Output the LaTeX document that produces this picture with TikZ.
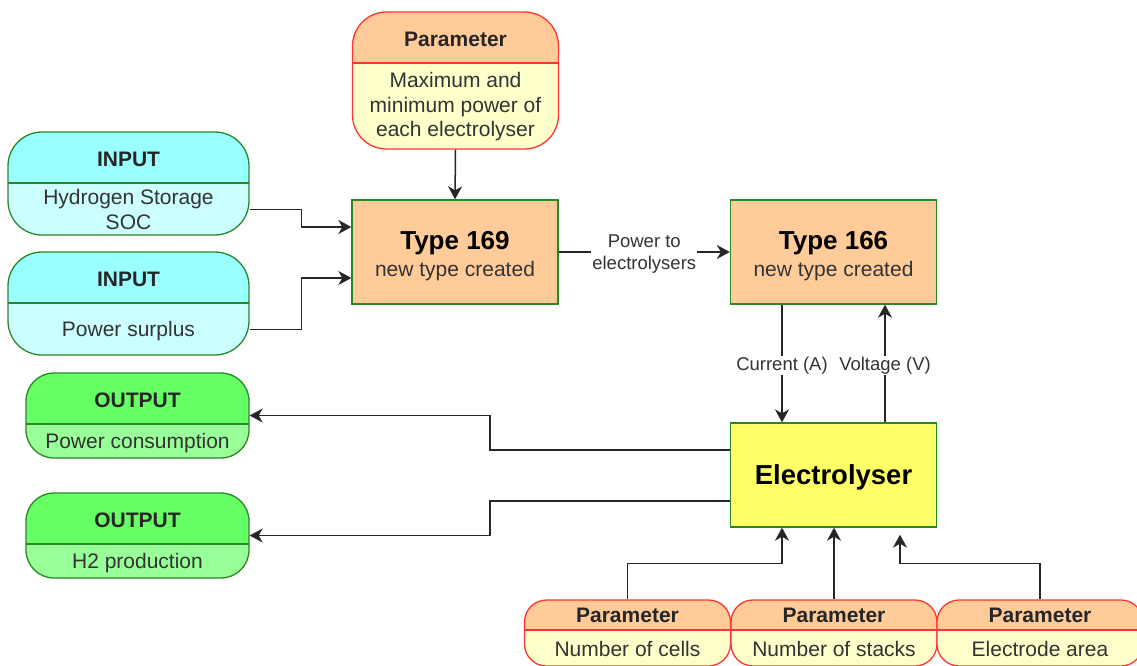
\documentclass[tikz,border=0pt]{standalone}
\usepackage{fontspec}
\setmainfont{Liberation Sans}
\usetikzlibrary{arrows.meta}

\definecolor{inhead}{HTML}{99FFFF}
\definecolor{inbody}{HTML}{CCFFFF}
\definecolor{outhead}{HTML}{66FF66}
\definecolor{outbody}{HTML}{99FF99}
\definecolor{parhead}{HTML}{FFCC99}
\definecolor{parbody}{HTML}{FFFFCC}
\definecolor{typefill}{HTML}{FFCC99}
\definecolor{elecfill}{HTML}{FFFF66}
\definecolor{edgegreen}{RGB}{40,135,40}
\definecolor{edgered}{HTML}{FF3333}
\definecolor{txt}{HTML}{333333}

\newcommand{\bodysize}{\fontsize{21}{24.5}\selectfont}
\newcommand{\labelsize}{\fontsize{18.5}{22}\selectfont}

\begin{document}
\begin{tikzpicture}[x=1pt, y=-1pt,
    hdr/.store in=\hdrh, hdr=51pt,
    card/.style n args={3}{draw=#1, fill=#3, line width=1.3pt, inner sep=0pt,
      path picture={
        \fill[#2, sharp corners] (path picture bounding box.north west) rectangle ([yshift=-\hdrh]path picture bounding box.north east);
        \draw[#1, line width=1.3pt] ([yshift=-\hdrh]path picture bounding box.north west) -- ([yshift=-\hdrh]path picture bounding box.north east);
      }},
    incard/.style={card={edgegreen}{inhead}{inbody}, rounded corners=34pt, minimum width=241pt, minimum height=103pt},
    outcard/.style={card={edgegreen}{outhead}{outbody}, rounded corners=28pt, minimum width=223pt, minimum height=85pt},
    parcard/.style={card={edgered}{parhead}{parbody}, rounded corners=22pt, minimum width=206pt, minimum height=66pt, hdr=30pt},
    block/.style={rectangle, draw=edgegreen, line width=1.3pt, minimum width=206pt, minimum height=104pt},
    blocktext/.style={align=center, text=black, inner sep=0pt},
    title/.style={font=\bodysize\bfseries, text=black!85},
    body/.style={font=\bodysize, text=txt, align=center},
    lbl/.style={font=\labelsize, text=txt, fill=white, align=center, inner sep=1pt, yshift=-2pt},
    arr/.style={-{Stealth[length=13pt, width=14pt, inset=4pt]}, line width=1.5pt, black!85}
  ]

  \useasboundingbox (0,0) rectangle (1137,666);

  % parameter feeding the dispatcher
  \node[card={edgered}{parhead}{parbody}, rounded corners=34pt, minimum width=206pt, minimum height=137pt] (par) at (455.5,80.5) {};
  \node[title] (part) at ([yshift=-28pt]par.north) {Parameter};
  \node[body] (parb) at ([yshift=43pt]par.south) {Maximum and\\minimum power of\\each electrolyser};

  % inputs
  \node[incard] (in1) at (128.5,183.5) {};
  \node[title] (in1t) at ([yshift=-28.5pt]in1.north) {INPUT};
  \node[body] (in1b) at ([yshift=26pt]in1.south) {Hydrogen Storage\\SOC};

  \node[incard] (in2) at (128.5,303.5) {};
  \node[title] (in2t) at ([yshift=-28.5pt]in2.north) {INPUT};
  \node[body] (in2b) at ([yshift=25pt]in2.south) {Power surplus};

  % outputs
  \node[outcard] (out1) at (137.5,415.5) {};
  \node[title] (out1t) at ([yshift=-28pt]out1.north) {OUTPUT};
  \node[body] (out1b) at ([yshift=16pt]out1.south) {Power consumption};

  \node[outcard] (out2) at (137.5,535.5) {};
  \node[title] (out2t) at ([yshift=-28pt]out2.north) {OUTPUT};
  \node[body] (out2b) at ([yshift=16pt]out2.south) {H2 production};

  % types and electrolyser
  \node[block, fill=typefill] (t169) at (455,252) {};
  \node[blocktext] (t169x) at ([yshift=-4pt]t169.center)
    {{\fontsize{26}{28}\selectfont\bfseries Type 169}\\[5pt]{\bodysize\color{txt} new type created}};
  \node[block, fill=typefill] (t166) at (833.5,252) {};
  \node[blocktext] (t166x) at ([yshift=-4pt]t166.center)
    {{\fontsize{26}{28}\selectfont\bfseries Type 166}\\[5pt]{\bodysize\color{txt} new type created}};
  \node[block, fill=elecfill] (elec) at (833.5,475) {};
  \node[blocktext, text depth=0pt] (elecx) at (elec.center)
    {\fontsize{27.5}{30}\selectfont\bfseries Electrolyser};

  % electrolyser parameters
  \node[parcard] (pcell) at (627.5,633) {};
  \node[title] (pcellt) at ([yshift=-16pt]pcell.north) {Parameter};
  \node[body] (pcellb) at ([yshift=18pt]pcell.south) {Number of cells};

  \node[parcard] (pstack) at (834,633) {};
  \node[title] (pstackt) at ([yshift=-16pt]pstack.north) {Parameter};
  \node[body] (pstackb) at ([yshift=18pt]pstack.south) {Number of stacks};

  \node[parcard] (parea) at (1040,633) {};
  \node[title] (pareat) at ([yshift=-16pt]parea.north) {Parameter};
  \node[body] (pareab) at ([yshift=18pt]parea.south) {Electrode area};

  % connectors
  \draw[arr] (par.south) -- (t169.north);
  \draw[arr] ([yshift=-26pt]in1.east) -- ++(52,0) |- ([yshift=25pt]t169.west);
  \draw[arr] ([yshift=-26pt]in2.east) -- ++(52,0) |- ([yshift=-26pt]t169.west);
  \draw[arr] (t169.east) -- node[lbl] (ptext) {Power to\\electrolysers} (t166.west);
  \draw[arr] ([xshift=-51.5pt]t166.south) -- node[lbl] (itext) {Current (A)} ([xshift=-51.5pt]elec.north);
  \draw[arr] ([xshift=51.5pt]elec.north) -- node[lbl] (vtext) {Voltage (V)} ([xshift=51.5pt]t166.south);
  \draw[arr] ([yshift=25pt]elec.west) -- ++(-240,0) |- (out1.east);
  \draw[arr] ([yshift=-26pt]elec.west) -- ++(-240,0) |- (out2.east);
  \draw[arr] (pcell.north) -- ++(0,-36) -| ([xshift=-51.5pt]elec.south);
  \draw[arr] (pstack.north) -- (pstack.north |- elec.south);
  \draw[arr] (parea.north) -- ++(0,-36) -| ([xshift=66.5pt, yshift=-7pt]elec.south);
\end{tikzpicture}
\end{document}
